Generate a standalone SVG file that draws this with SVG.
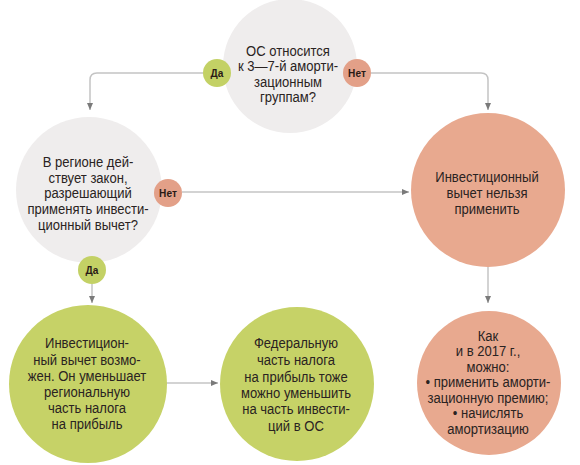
<svg xmlns="http://www.w3.org/2000/svg" width="580" height="465" viewBox="0 0 580 465">
<style>
.t{font-family:"Liberation Sans",Arial,sans-serif;font-size:14.5px;fill:#2a2322;text-anchor:middle}
.b{font-family:"Liberation Sans",Arial,sans-serif;font-size:11.5px;font-weight:bold;fill:#2a1a16;text-anchor:middle}
.gray{fill:#efeded}
.green{fill:#c6d267}
.salmon{fill:#e8a98f}
.bg{fill:#c3d165}
.bs{fill:#e3a088}
.ln{fill:none;stroke:#c4c4c4;stroke-width:1.5}
</style>
<defs>
<marker id="ah" markerWidth="8" markerHeight="8" refX="7" refY="4" orient="auto" markerUnits="userSpaceOnUse">
<path d="M0,1 L7,4 L0,7 Z" fill="#7a7a7a"/>
</marker>
</defs>
<rect width="580" height="465" fill="#ffffff"/>
<g id="connectors">
<path class="ln" d="M203,73 H97 Q90,73 90,80 V110" marker-end="url(#ah)"/>
<path class="ln" d="M371,73 H481 Q488,73 488,80 V110" marker-end="url(#ah)"/>
<path class="ln" d="M182,192 H409" marker-end="url(#ah)"/>
<path class="ln" d="M92,284 V303" marker-end="url(#ah)"/>
<path class="ln" d="M488,267 V303" marker-end="url(#ah)"/>
<path class="ln" d="M166,383 H218" marker-end="url(#ah)"/>
</g>
<g id="q1">
<circle class="gray" cx="290" cy="66" r="67"/>
<g transform="translate(288,0) scale(0.9,1)">
<text class="t" x="0" y="56">ОС относится</text>
<text class="t" x="0" y="71.5">к 3—7-й аморти-</text>
<text class="t" x="0" y="87">зационным</text>
<text class="t" x="0" y="102">группам?</text>
</g>
</g>
<g id="q1-yes">
<circle class="bg" cx="217" cy="73" r="14"/>
<text class="b" transform="translate(217,0) scale(0.88,1)" x="0" y="77">Да</text>
</g>
<g id="q1-no">
<circle class="bs" cx="357" cy="73" r="14"/>
<text class="b" transform="translate(357,0) scale(0.88,1)" x="0" y="77">Нет</text>
</g>
<g id="q2">
<circle class="gray" cx="89" cy="190" r="73"/>
<g transform="translate(88,0) scale(0.9,1)">
<text class="t" x="0" y="167">В регионе дей-</text>
<text class="t" x="0" y="183">ствует закон,</text>
<text class="t" x="0" y="198.5">разрешающий</text>
<text class="t" x="0" y="214.5">применять инвести-</text>
<text class="t" x="0" y="230">ционный вычет?</text>
</g>
</g>
<g id="q2-no">
<circle class="bs" cx="168" cy="193" r="14"/>
<text class="b" transform="translate(168,0) scale(0.88,1)" x="0" y="197">Нет</text>
</g>
<g id="q2-yes">
<circle class="bg" cx="92" cy="270" r="14"/>
<text class="b" transform="translate(92,0) scale(0.88,1)" x="0" y="274">Да</text>
</g>
<g id="no-deduction">
<circle class="salmon" cx="488" cy="190" r="77"/>
<g transform="translate(487,0) scale(0.9,1)">
<text class="t" x="0" y="182">Инвестиционный</text>
<text class="t" x="0" y="198">вычет нельзя</text>
<text class="t" x="0" y="214">применить</text>
</g>
</g>
<g id="deduction-possible">
<circle class="green" cx="88" cy="384" r="79"/>
<g transform="translate(87,0) scale(0.9,1)">
<text class="t" x="0" y="348">Инвестицион-</text>
<text class="t" x="0" y="365">ный вычет возмо-</text>
<text class="t" x="0" y="381">жен. Он уменьшает</text>
<text class="t" x="0" y="397">региональную</text>
<text class="t" x="0" y="413">часть налога</text>
<text class="t" x="0" y="429">на прибыль</text>
</g>
</g>
<g id="federal">
<circle class="green" cx="297" cy="384" r="77"/>
<g transform="translate(296,0) scale(0.9,1)">
<text class="t" x="0" y="348">Федеральную</text>
<text class="t" x="0" y="365">часть налога</text>
<text class="t" x="0" y="382">на прибыль тоже</text>
<text class="t" x="0" y="398">можно уменьшить</text>
<text class="t" x="0" y="414">на часть инвести-</text>
<text class="t" x="0" y="431">ций в ОС</text>
</g>
</g>
<g id="as-2017">
<circle class="salmon" cx="489" cy="383" r="72"/>
<g transform="translate(488,0) scale(0.9,1)">
<text class="t" x="0" y="341">Как</text>
<text class="t" x="0" y="356.5">и в 2017 г.,</text>
<text class="t" x="0" y="372">можно:</text>
<text class="t" x="0" y="387.5">• применить аморти-</text>
<text class="t" x="0" y="403">зационную премию;</text>
<text class="t" x="0" y="418.5">• начислять</text>
<text class="t" x="0" y="434">амортизацию</text>
</g>
</g>
</svg>
